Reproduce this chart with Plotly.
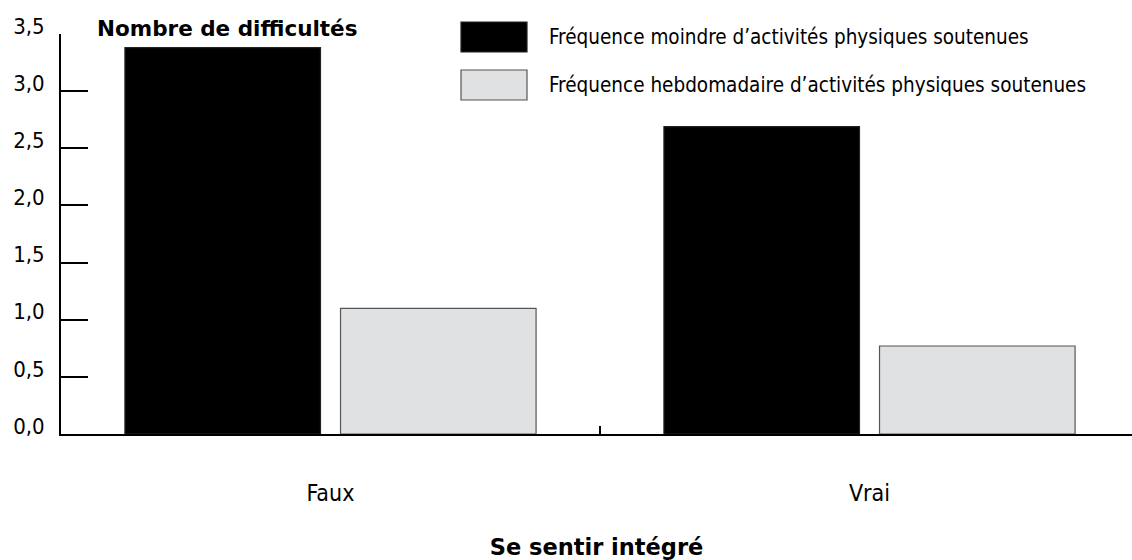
import plotly.graph_objects as go

# Data
categories = ["Faux", "Vrai"]
series_names = [
    "Fréquence moindre d’activités physiques soutenues",
    "Fréquence hebdomadaire d’activités physiques soutenues",
]
moindre = [3.38, 2.69]
hebdo = [1.10, 0.77]
y_ticks = [0.0, 0.5, 1.0, 1.5, 2.0, 2.5, 3.0, 3.5]
y_title = "Nombre de difficultés"
x_title = "Se sentir intégré"

colors = ["#000000", "#e0e1e3"]
edge = ["#222222", "#555555"]

FONT = "DejaVu Sans Condensed"
BOLD = "DejaVu Sans"

fig = go.Figure()
for name, vals, c, e in zip(series_names, [moindre, hebdo], colors, edge):
    fig.add_trace(go.Bar(
        x=categories, y=vals, name=name,
        marker=dict(color=c, line=dict(color=e, width=1.2)),
        showlegend=False,
    ))

# Custom legend: swatches + labels
swatch_y = [(22, 52), (70, 100)]
for (y0, y1), c, e, name in zip(swatch_y, colors, edge, series_names):
    fig.add_shape(type="rect", xref="paper", yref="paper",
                  x0=(461 - 61) / 1071, x1=(527 - 61) / 1071,
                  y0=(434 - y1) / 400, y1=(434 - y0) / 400,
                  fillcolor=c, line=dict(color=e, width=1.2))
    fig.add_annotation(xref="paper", yref="paper",
                       x=(547 - 61) / 1071, y=(434 - (y0 + y1) / 2) / 400,
                       text=name, showarrow=False, xanchor="left", yanchor="middle",
                       font=dict(family=FONT, size=20.5, color="#000"))

fig.add_annotation(xref="paper", yref="paper", x=(95 - 61) / 1071, y=(434 - 28) / 400,
                   text="<b>" + y_title + "</b>", showarrow=False,
                   xanchor="left", yanchor="middle",
                   font=dict(family=BOLD, size=21.5, color="#000"))

fig.update_layout(
    width=1132, height=560,
    margin=dict(l=61, r=0, t=34, b=126),
    paper_bgcolor="white", plot_bgcolor="white",
    barmode="group", bargap=0.2, bargroupgap=0.093,
    separators=", ",
    font=dict(family=FONT, size=18, color="#000"),
)

fig.update_yaxes(
    range=[0, 3.5], tickvals=y_ticks, tickformat=".1f",
    showgrid=False, zeroline=False,
    showline=True, linecolor="#000", linewidth=2,
    ticks="inside", ticklen=27, tickwidth=2, tickcolor="#000",
    ticklabelstandoff=10, ticklabelshift=-8,
    tickfont=dict(family=FONT, size=22, color="#000"),
)

fig.update_xaxes(
    range=[-0.5, 1.487], type="category",
    showgrid=False, zeroline=False,
    showline=True, linecolor="#000", linewidth=2,
    ticks="inside", tickson="boundaries", ticklen=8, tickwidth=1.5, tickcolor="#000",
    ticklabelstandoff=37,
    tickfont=dict(family=FONT, size=23, color="#000"),
    title=dict(text="<b>" + x_title + "</b>", standoff=35,
               font=dict(family=BOLD, size=22.5, color="#000")),
)

fig.write_html("out.html")
